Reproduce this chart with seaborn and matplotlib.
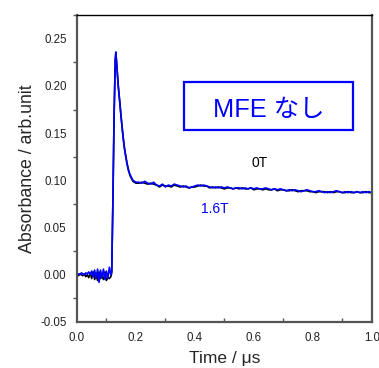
import numpy as np
import pandas as pd
import matplotlib
matplotlib.use("Agg")
import matplotlib.pyplot as plt
from matplotlib.ticker import MultipleLocator
from matplotlib.patches import Rectangle
import seaborn as sns

# ---- data ----
time_us = [0.000, 0.005, 0.010, 0.015, 0.020, 0.025, 0.030, 0.035, 0.040, 0.045,
           0.050, 0.055, 0.060, 0.065, 0.070, 0.075, 0.080, 0.085, 0.090, 0.095,
           0.100, 0.105, 0.110, 0.115,
           0.118, 0.122, 0.126, 0.130, 0.132, 0.135,
           0.140, 0.145, 0.150, 0.155, 0.160, 0.165, 0.170, 0.175, 0.180, 0.185,
           0.190, 0.195, 0.200,
           0.21, 0.22, 0.23, 0.24, 0.25, 0.26, 0.27, 0.28, 0.29, 0.30,
           0.31, 0.32, 0.33, 0.34, 0.35, 0.36, 0.37, 0.38, 0.39, 0.40,
           0.41, 0.42, 0.43, 0.44, 0.45, 0.46, 0.47, 0.48, 0.49, 0.50,
           0.51, 0.52, 0.53, 0.54, 0.55, 0.56, 0.57, 0.58, 0.59, 0.60,
           0.61, 0.62, 0.63, 0.64, 0.65, 0.66, 0.67, 0.68, 0.69, 0.70,
           0.71, 0.72, 0.73, 0.74, 0.75, 0.76, 0.77, 0.78, 0.79, 0.80,
           0.81, 0.82, 0.83, 0.84, 0.85, 0.86, 0.87, 0.88, 0.89, 0.90,
           0.91, 0.92, 0.93, 0.94, 0.95, 0.96, 0.97, 0.98, 0.99, 1.00]

abs_0T = [0.000, -0.001, 0.001, 0.000, -0.001, 0.001, -0.002, 0.000, -0.003, 0.002,
          -0.004, 0.003, -0.005, 0.002, -0.006, 0.003, -0.004, -0.002, -0.005, 0.003,
          -0.006, -0.003, -0.004, -0.002,
          0.002, 0.078, 0.168, 0.227, 0.235, 0.223,
          0.201, 0.184, 0.167, 0.151, 0.137, 0.127, 0.118, 0.111, 0.105, 0.102,
          0.099, 0.098, 0.097,
          0.097, 0.098, 0.097, 0.096, 0.097, 0.096, 0.095, 0.093, 0.095, 0.094,
          0.094, 0.093, 0.095, 0.094, 0.093, 0.094, 0.093, 0.092, 0.093, 0.093,
          0.094, 0.095, 0.094, 0.094, 0.092, 0.093, 0.092, 0.093, 0.092, 0.091,
          0.092, 0.092, 0.091, 0.092, 0.091, 0.092, 0.091, 0.091, 0.092, 0.090,
          0.091, 0.091, 0.090, 0.091, 0.090, 0.090, 0.091, 0.089, 0.090, 0.090,
          0.089, 0.089, 0.090, 0.089, 0.088, 0.089, 0.089, 0.089, 0.088, 0.088,
          0.087, 0.088, 0.088, 0.088, 0.087, 0.088, 0.087, 0.088, 0.088, 0.087,
          0.087, 0.088, 0.087, 0.087, 0.088, 0.087, 0.087, 0.088, 0.087, 0.087]

abs_16T = [0.000, 0.001, 0.000, 0.002, 0.001, 0.000, 0.002, 0.001, 0.003, 0.000,
           0.004, -0.002, 0.005, -0.004, 0.006, -0.008, 0.005, -0.003, 0.006, -0.005,
           0.004, -0.004, 0.008, 0.000,
           0.004, 0.080, 0.170, 0.228, 0.236, 0.222,
           0.200, 0.183, 0.166, 0.150, 0.136, 0.126, 0.117, 0.110, 0.106, 0.103,
           0.100, 0.099, 0.098,
           0.098, 0.097, 0.099, 0.097, 0.096, 0.098, 0.095, 0.094, 0.096, 0.093,
           0.095, 0.094, 0.096, 0.095, 0.094, 0.093, 0.094, 0.092, 0.093, 0.094,
           0.095, 0.094, 0.095, 0.094, 0.093, 0.092, 0.093, 0.092, 0.093, 0.092,
           0.093, 0.092, 0.091, 0.092, 0.092, 0.091, 0.092, 0.091, 0.092, 0.091,
           0.092, 0.091, 0.091, 0.092, 0.091, 0.090, 0.091, 0.090, 0.091, 0.090,
           0.089, 0.090, 0.089, 0.090, 0.089, 0.088, 0.089, 0.090, 0.089, 0.088,
           0.088, 0.089, 0.088, 0.087, 0.088, 0.087, 0.088, 0.089, 0.088, 0.087,
           0.088, 0.087, 0.088, 0.087, 0.088, 0.087, 0.088, 0.087, 0.088, 0.087]

series_names = ["0T", "1.6T"]
series_colors = ["#000000", "#0000ff"]
box_text = "MFE なし"

df = pd.concat([
    pd.DataFrame({"t": time_us, "A": abs_0T, "field": series_names[0]}),
    pd.DataFrame({"t": time_us, "A": abs_16T, "field": series_names[1]}),
], ignore_index=True)

# ---- plot ----
sns.set_style("white")
plt.rcParams["font.family"] = ["Liberation Sans", "DejaVu Sans", "Noto Sans CJK JP"]

fig = plt.figure(figsize=(3.79, 3.68), dpi=100)
ax = fig.add_axes([0.203, 0.125, 0.778, 0.834])

sns.lineplot(data=df, x="t", y="A", hue="field", hue_order=series_names,
             palette=series_colors, linewidth=1.2, legend=False, ax=ax,
             estimator=None, sort=False)

ax.set_xlim(0.0, 1.0)
ax.set_ylim(-0.05, 0.275)
ax.xaxis.set_major_locator(MultipleLocator(0.2))
ax.xaxis.set_minor_locator(MultipleLocator(0.1))
ax.yaxis.set_major_locator(MultipleLocator(0.05))
ax.yaxis.set_minor_locator(MultipleLocator(0.025))
ax.set_xticklabels([f"{v:.1f}" for v in ax.get_xticks()])
ax.set_yticklabels([f"{v:.2f}" for v in ax.get_yticks()])

ax.tick_params(axis="both", which="major", direction="out", length=4, width=1,
               color="#555555", labelsize=8.3, labelcolor="#222222")
ax.tick_params(axis="x", which="minor", direction="in", length=3, width=1,
               color="#555555", bottom=True)
ax.tick_params(axis="y", which="minor", direction="out", length=3, width=1,
               color="#555555", left=True)

for side in ["left", "bottom", "right"]:
    ax.spines[side].set_color("#555555")
    ax.spines[side].set_linewidth(1.6)
ax.spines["top"].set_color("#000000")
ax.spines["top"].set_linewidth(1.0)

ax.set_xlabel("Time / \u03bcs", fontsize=12.5, labelpad=5)
ax.set_ylabel("Absorbance / arb.unit", fontsize=12.8, labelpad=3)

ax.text(0.62, 0.118, series_names[0], color="black", fontsize=10,
        ha="center", va="center")
ax.text(0.468, 0.070, series_names[1], color="#0000ff", fontsize=10,
        ha="center", va="center")

ax.add_patch(Rectangle((0.3644, 0.1533), 0.5729, 0.0507, fill=False,
                       ec="#0000ff", lw=1.6, zorder=5))
ax.text(0.649, 0.1745, box_text, color="#0000ff", fontsize=18.3,
        family=["Liberation Sans", "Noto Sans CJK JP"],
        ha="center", va="center", zorder=6)

fig.savefig("out.png", dpi=100)
